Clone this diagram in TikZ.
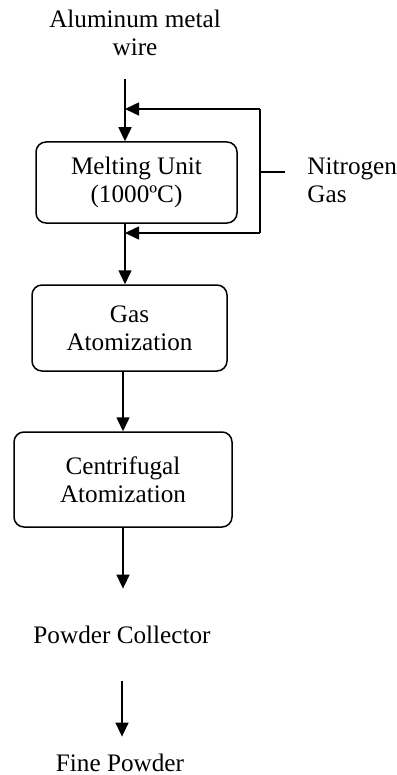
\documentclass[tikz,border=0pt]{standalone}
\usepackage{fontspec}
\setmainfont{Liberation Serif}
\usetikzlibrary{arrows.meta}
\begin{document}
\begin{tikzpicture}[x=0.5pt, y={(0pt,-0.5pt)},
  font=\fontsize{12.6}{14}\selectfont,
  unit/.style={draw, rounded corners=5pt, line width=0.75pt, align=center,
               anchor=center, inner sep=2pt},
  lbl/.style={align=center, inner sep=2pt},
  flow/.style={-{Triangle[length=7pt, width=6.5pt]}, line width=0.75pt},
  pipe/.style={line width=0.75pt}]
\useasboundingbox (0,0) rectangle (396,775);
\node[lbl] (wire) at (135,33) {Aluminum metal\\wire};
\coordinate (wtop) at (125,79);
\node[unit, minimum width=100.5pt, minimum height=40.5pt] (melt) at (136.5,182.5)
  {Melting Unit\\(1000ºC)};
\node[unit, minimum width=97.5pt, minimum height=43pt] (gas) at (129.5,328)
  {Gas\\Atomization};
\node[unit, minimum width=109pt, minimum height=47.5pt] (cent) at (123,479.5)
  {Centrifugal\\Atomization};
\node[lbl, minimum height=46pt] (coll) at (122,635) {Powder Collector};
\node[lbl, minimum height=26pt] (fine) at (120,763) {Fine Powder};
\node[lbl, align=left, anchor=west] (n2) at (303,180) {Nitrogen\\Gas};
% nitrogen feed
\coordinate (ntop) at (260,109);
\coordinate (nbot) at (260,233);
\coordinate (stub) at (285,172);
\draw[pipe] (stub) -- (stub -| ntop);
\draw[pipe] (ntop) -- (nbot);
\draw[flow] (ntop) -- (ntop -| wtop);
\draw[flow] (nbot) -- (nbot -| wtop);
% main line
\draw[flow] (wtop) -- (wtop |- melt.north);
\draw[flow] (wtop |- melt.south) -- (wtop |- gas.north);
\draw[flow] (cent.north |- gas.south) -- (cent.north);
\draw[flow] (cent.south) -- (cent.south |- coll.north);
\draw[flow] (coll.south) -- (coll.south |- fine.north);
\end{tikzpicture}
\end{document}
